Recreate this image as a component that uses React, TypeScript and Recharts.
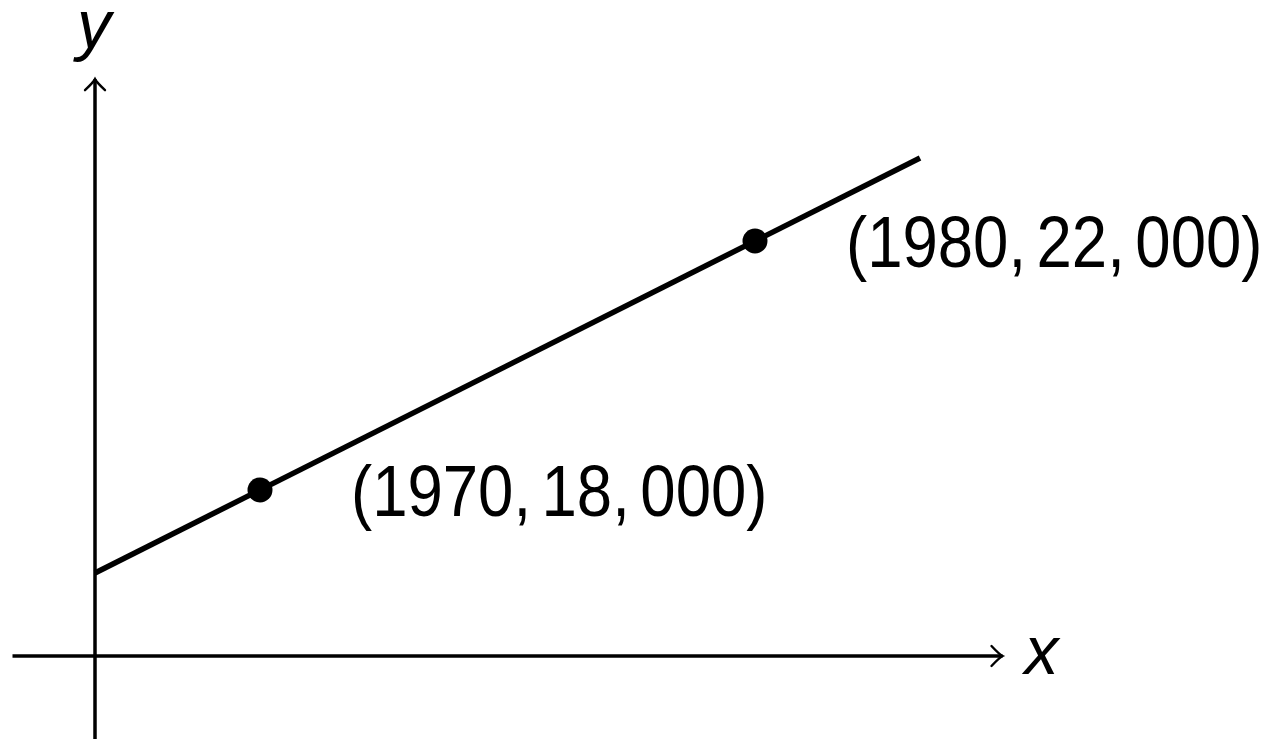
import { ComposedChart, Line, Scatter, XAxis, YAxis } from 'recharts'

// the sketch has no ticks, so everything is in grid steps (origin = where the axes cross)
const lineX = [0, 5]
const lineY = [1, 6]
const pointX = [1, 4]
const pointY = [2, 5]
const pointLabels = ['(1970, 18, 000)', '(1980, 22, 000)']
const axisNames = ['x', 'y']

const xAxisEnds = [-0.5, 5.5]
const yAxisEnds = [-1, 6.95]

const font = "'Liberation Sans', Arial, Helvetica, sans-serif"

const lineData = lineX.map((x, i) => ({ x, y: lineY[i] }))
const pointData = pointX.map((x, i) => ({ x, y: pointY[i], label: pointLabels[i] }))
const xAxisData = xAxisEnds.map((x) => ({ x, y: 0 }))
const yAxisData = yAxisEnds.map((y) => ({ x: 0, y }))
const nameData = [
  { x: xAxisEnds[1], y: 0, label: axisNames[0], axis: 'x' },
  { x: 0, y: yAxisEnds[1], label: axisNames[1], axis: 'y' },
]

const PointShape = (props: any) => {
  const { cx, cy, payload } = props
  // math-mode commas: thin gap after each comma instead of a full space
  const parts = String(payload.label).split(', ')
  return (
    <g>
      <circle cx={cx} cy={cy} r={12.5} fill="#000" />
      <text
        transform={`translate(${cx + 91}, ${cy + 26}) scale(1, 1.13)`}
        fontSize={63.5}
        fontFamily={font}
        fill="#000"
      >
        {parts.map((p, i) => (
          <tspan key={i} dx={i === 0 ? 0 : 10.5}>
            {i < parts.length - 1 ? p + ',' : p}
          </tspan>
        ))}
      </text>
    </g>
  )
}

const NameShape = (props: any) => {
  const { cx, cy, payload } = props
  const isX = payload.axis === 'x'
  return (
    <text
      x={isX ? cx + 22 : cx - 1}
      y={isX ? cy + 18 : cy - 31}
      textAnchor={isX ? 'start' : 'middle'}
      fontSize={68}
      fontStyle="italic"
      fontFamily={font}
      fill="#000"
    >
      {payload.label}
    </text>
  )
}

export default function App() {
  return (
    <div style={{ position: 'absolute', left: 0, top: 0, background: '#fff' }}>
      <ComposedChart
        width={1268}
        height={739}
        margin={{ top: 75, right: 265.5, bottom: 0, left: 12.5 }}
      >
        <defs>
          <marker
            id="arrowHead"
            markerUnits="userSpaceOnUse"
            markerWidth={30}
            markerHeight={30}
            viewBox="-15 -15 30 30"
            refX={0}
            refY={0}
            orient="auto"
            overflow="visible"
          >
            <path
              d="M -11 -10 Q -3 -1.5 0 0 Q -3 1.5 -11 10"
              fill="none"
              stroke="#000"
              strokeWidth={2.4}
              strokeLinecap="round"
            />
          </marker>
        </defs>
        <XAxis hide type="number" dataKey="x" domain={[-0.5, 5.5]} />
        <YAxis hide type="number" dataKey="y" domain={[-1, 7]} />
        <Line
          data={xAxisData}
          dataKey="y"
          type="linear"
          stroke="#000"
          strokeWidth={3.5}
          dot={false}
          markerEnd="url(#arrowHead)"
          isAnimationActive={false}
        />
        <Line
          data={yAxisData}
          dataKey="y"
          type="linear"
          stroke="#000"
          strokeWidth={3.5}
          dot={false}
          markerEnd="url(#arrowHead)"
          isAnimationActive={false}
        />
        <Line
          data={lineData}
          dataKey="y"
          type="linear"
          stroke="#000"
          strokeWidth={5.5}
          dot={false}
          isAnimationActive={false}
        />
        <Scatter data={pointData} shape={<PointShape />} isAnimationActive={false} />
        <Scatter data={nameData} shape={<NameShape />} isAnimationActive={false} />
      </ComposedChart>
    </div>
  )
}
